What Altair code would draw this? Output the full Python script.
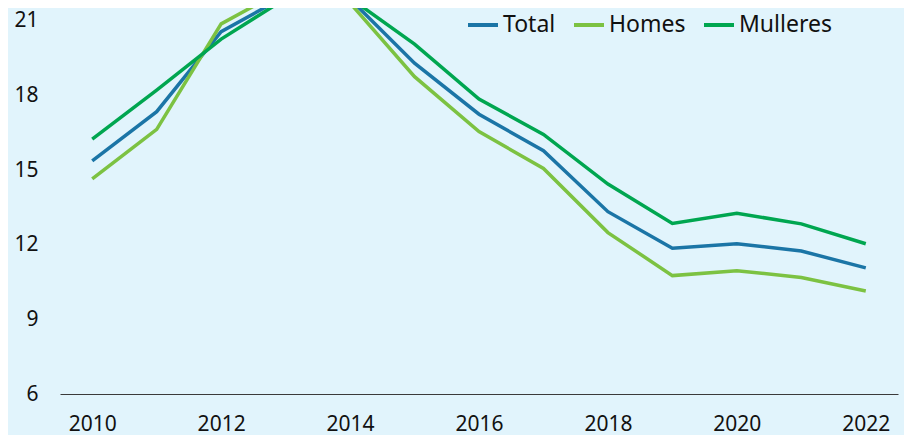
import altair as alt
import pandas as pd

years = list(range(2010, 2023))
total = [15.37, 17.35, 20.57, 22.0, 21.88, 19.30, 17.25, 15.78, 13.33, 11.86, 12.04, 11.75, 11.07]
homes = [14.65, 16.64, 20.88, 22.3, 21.72, 18.76, 16.55, 15.07, 12.49, 10.76, 10.96, 10.68, 10.14]
mulleres = [16.25, 18.22, 20.27, 21.9, 21.92, 20.07, 17.86, 16.44, 14.44, 12.86, 13.27, 12.84, 12.04]
series_names = ["Total", "Homes", "Mulleres"]
series_colors = ["#1b75a6", "#7cc242", "#00a650"]
y_ticks = [6, 9, 12, 15, 18, 21]
x_ticks = [2010, 2012, 2014, 2016, 2018, 2020, 2022]

rows = []
for name, vals in zip(series_names, [total, homes, mulleres]):
    for y, v in zip(years, vals):
        rows.append({"year": y, "value": v, "serie": name})
df = pd.DataFrame(rows)

FONT = "Noto Sans"
BG = "#e1f4fc"

chart = alt.Chart(df).mark_line(strokeWidth=3.5, clip=True).encode(
    x=alt.X("year:Q",
            scale=alt.Scale(domain=[2009.5, 2022.5], nice=False, zero=False),
            axis=alt.Axis(values=x_ticks, format="d", title=None, grid=False,
                          ticks=False, labelPadding=19, domainColor="#3a3a3a",
                          domainWidth=1.2, labelFontSize=21, labelColor="#111111",
                          labelFont=FONT)),
    y=alt.Y("value:Q",
            scale=alt.Scale(domain=[6, 21.52], nice=False, zero=False),
            axis=alt.Axis(values=y_ticks, title=None, grid=False, ticks=False,
                          domain=False, labelPadding=22, labelFontSize=21,
                          labelColor="#111111", labelFont=FONT)),
    color=alt.Color("serie:N",
                    scale=alt.Scale(domain=series_names, range=series_colors),
                    sort=series_names,
                    legend=alt.Legend(title=None, orient="none", direction="horizontal",
                                      legendX=406, legendY=0, symbolType="stroke",
                                      symbolSize=900, symbolStrokeWidth=4,
                                      labelFontSize=23, labelFont=FONT,
                                      labelColor="#111111", labelOffset=3,
                                      columnPadding=10, padding=0)),
    detail="serie:N",
).properties(
    width=838,
    height=386,
    background=BG,
    padding={"left": 52, "top": 0, "right": 6, "bottom": 45},
    autosize=alt.AutoSizeParams(type="none"),
).configure_view(stroke=None, fill=BG)

chart.save("out.html", embed_options={"renderer": "svg", "actions": False})
